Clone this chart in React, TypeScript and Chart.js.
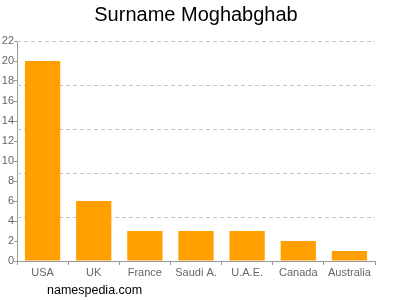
import React, { useEffect, useRef } from "react";
import { Chart, registerables } from "chart.js";

Chart.register(...registerables);

const categories = ["USA", "UK", "France", "Saudi A.", "U.A.E.", "Canada", "Australia"];
const counts = [20, 6, 3, 3, 3, 2, 1];
const gridValues = [4.4, 8.8, 13.2, 17.6, 22];
const titleText = "Surname Moghabghab";
const footerText = "namespedia.com";

const FONT = "'Liberation Sans', Arial, sans-serif";

const gridPlugin = {
  id: "gridPlugin",
  beforeDatasetsDraw(chart: any) {
    const ctx = chart.ctx;
    const area = chart.chartArea;
    const ys = chart.scales.y;
    ctx.save();
    ctx.strokeStyle = "#c4c4c4";
    ctx.lineWidth = 1;
    ctx.setLineDash([4, 3]);
    for (const v of gridValues) {
      const py = Math.round(ys.getPixelForValue(v)) + 0.5;
      ctx.beginPath();
      ctx.moveTo(area.left, py);
      ctx.lineTo(area.right, py);
      ctx.stroke();
    }
    ctx.restore();
  },
};

const textPlugin = {
  id: "textPlugin",
  afterDraw(chart: any) {
    const ctx = chart.ctx;
    ctx.save();
    ctx.fillStyle = "#000";
    ctx.font = `20px ${FONT}`;
    ctx.textAlign = "center";
    ctx.textBaseline = "middle";
    ctx.fillText(titleText, 196, 15);
    ctx.font = `12.5px ${FONT}`;
    ctx.textAlign = "left";
    ctx.fillText(footerText, 47, 291);
    ctx.restore();
  },
};

export default function App() {
  const ref = useRef<HTMLCanvasElement>(null);
  useEffect(() => {
    document.body.style.margin = "0";
    const chart = new Chart(ref.current!, {
      type: "bar",
      data: {
        labels: categories,
        datasets: [
          {
            data: counts,
            backgroundColor: "#FFA000",
            barPercentage: 0.69,
            categoryPercentage: 1,
          },
        ],
      },
      options: {
        animation: false,
        responsive: false,
        layout: { padding: { top: 41, right: 25, left: 0, bottom: 0 } },
        plugins: { legend: { display: false }, tooltip: { enabled: false }, title: { display: false } },
        scales: {
          x: {
            grid: { display: true, drawOnChartArea: false, drawTicks: true, tickLength: 4, color: "#999" },
            border: { display: true, color: "#999" },
            ticks: { color: "#666", font: { family: FONT, size: 11 }, padding: 1, maxRotation: 0, autoSkip: false },
            afterFit(scale: any) {
              scale.height = 39;
            },
          },
          y: {
            min: 0,
            max: 22,
            ticks: { stepSize: 2, color: "#666", font: { family: FONT, size: 11 }, padding: 0 },
            grid: { display: true, drawOnChartArea: false, drawTicks: true, tickLength: 3, color: "#999" },
            border: { display: true, color: "#999" },
            afterFit(scale: any) {
              scale.width = 17;
            },
          },
        },
      },
      plugins: [gridPlugin, textPlugin],
    } as any);
    return () => chart.destroy();
  }, []);
  return (
    <div style={{ position: "fixed", left: 0, top: 0, width: 400, height: 300 }}>
      <canvas ref={ref} width={400} height={300} />
    </div>
  );
}
